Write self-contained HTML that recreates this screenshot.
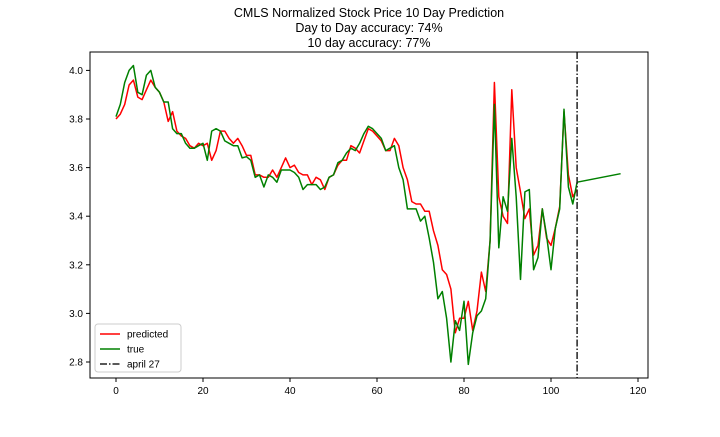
<!DOCTYPE html>
<html><head><meta charset="utf-8"><style>
body{margin:0;background:#fff;font-family:"Liberation Sans","DejaVu Sans",sans-serif}
</style></head><body>
<svg id="c" width="720" height="432" xmlns="http://www.w3.org/2000/svg" font-family="Liberation Sans, DejaVu Sans, sans-serif"></svg>
<script>
const trueVals=[3.81,3.86,3.95,4.00,4.02,3.91,3.90,3.98,4.00,3.93,3.91,3.87,3.87,3.76,3.74,3.74,3.70,3.68,3.68,3.69,3.70,3.63,3.75,3.76,3.75,3.71,3.70,3.69,3.69,3.64,3.645,3.63,3.56,3.57,3.52,3.57,3.56,3.54,3.59,3.59,3.59,3.58,3.56,3.51,3.53,3.53,3.53,3.51,3.52,3.56,3.57,3.62,3.63,3.66,3.68,3.67,3.70,3.74,3.77,3.76,3.74,3.72,3.67,3.68,3.69,3.60,3.55,3.43,3.43,3.43,3.38,3.40,3.31,3.21,3.06,3.09,2.98,2.80,2.97,2.93,3.05,2.79,2.92,2.99,3.01,3.06,3.30,3.86,3.27,3.48,3.42,3.72,3.48,3.14,3.50,3.51,3.18,3.23,3.43,3.32,3.18,3.35,3.43,3.84,3.52,3.45,3.54];
const predVals=[3.80,3.82,3.86,3.94,3.96,3.89,3.88,3.92,3.96,3.93,3.91,3.87,3.79,3.83,3.75,3.73,3.72,3.69,3.68,3.70,3.69,3.70,3.63,3.67,3.75,3.75,3.72,3.70,3.72,3.69,3.65,3.65,3.57,3.57,3.56,3.56,3.59,3.56,3.60,3.64,3.60,3.61,3.58,3.57,3.57,3.53,3.56,3.55,3.51,3.56,3.57,3.61,3.63,3.63,3.69,3.68,3.66,3.71,3.76,3.75,3.73,3.71,3.67,3.67,3.72,3.69,3.60,3.55,3.46,3.45,3.45,3.42,3.42,3.34,3.28,3.18,3.16,3.10,2.92,2.98,2.98,3.05,2.93,3.01,3.17,3.09,3.30,3.95,3.48,3.40,3.37,3.92,3.60,3.50,3.39,3.43,3.24,3.28,3.43,3.31,3.28,3.35,3.44,3.83,3.57,3.48,3.51];
const forecastX=[106,116];
const forecastVals=[3.54,3.575];
const cutoffX=106;
const xTicks=[0,20,40,60,80,100,120];
const yTicks=[2.8,3.0,3.2,3.4,3.6,3.8,4.0];
const L=90,R=648,T=52,B=378;
const X=v=>116+v*4.35;
const Y=v=>362-(v-2.8)/0.2*48.6;
const svg=document.getElementById('c');
const NS='http://www.w3.org/2000/svg';
function mk(t,a,p){const e=document.createElementNS(NS,t);for(const k in a)e.setAttribute(k,a[k]);(p||svg).appendChild(e);return e;}
function txt(s,a){const e=mk('text',a);e.textContent=s;return e;}
const titles=["CMLS Normalized Stock Price 10 Day Prediction","Day to Day accuracy: 74%","10 day accuracy: 77%"];
titles.forEach((s,i)=>{const e=txt(s,{x:369,y:17+i*15,'text-anchor':'middle','font-size':12.5});

});
xTicks.forEach(v=>{const l=mk('line',{x1:X(v),x2:X(v),y1:B,y2:B+4,stroke:'#000'});


const t=txt(v,{x:X(v),y:B+16,'text-anchor':'middle','font-size':10});

});
yTicks.forEach(v=>{const l=mk('line',{x1:L-4,x2:L,y1:Y(v),y2:Y(v),stroke:'#000'});


const t=txt(v.toFixed(1),{x:L-7,y:Y(v)+3.5,'text-anchor':'end','font-size':10});

});
function path(xs,ys,col,name){const d=ys.map((v,i)=>(i?'L':'M')+X(xs[i]).toFixed(1)+','+Y(v).toFixed(1)).join('');
const p=mk('path',{d:d,fill:'none',stroke:col,'stroke-width':1.5,'stroke-linejoin':'round'});

}
path(predVals.map((_,i)=>i),predVals,'#ff0000','predicted-line');
path(trueVals.map((_,i)=>i),trueVals,'#008000','true-line');
path(forecastX,forecastVals,'#008000','forecast-line');
const cl=mk('line',{x1:X(cutoffX),x2:X(cutoffX),y1:T,y2:B,stroke:'#222','stroke-width':1.5,'stroke-dasharray':'7,2,1.5,2'});


const fr=mk('rect',{x:L,y:T,width:R-L,height:B-T,fill:'none',stroke:'#000','stroke-width':1});


const lg=mk('g',{});


mk('rect',{x:95,y:324,width:86,height:48,rx:3,fill:'#fff',stroke:'#ccc'},lg);
[['predicted','#ff0000',null],['true','#008000',null],['april 27','#222','7,2,1.5,2']].forEach((e,i)=>{
const y=334+i*15;
const a={x1:100,x2:120,y1:y,y2:y,stroke:e[1],'stroke-width':1.5};if(e[2])a['stroke-dasharray']=e[2];
mk('line',a,lg);
const t=mk('text',{x:127,y:y+3.5,'font-size':10},lg);t.textContent=e[0];

});
</script>
</body></html>
